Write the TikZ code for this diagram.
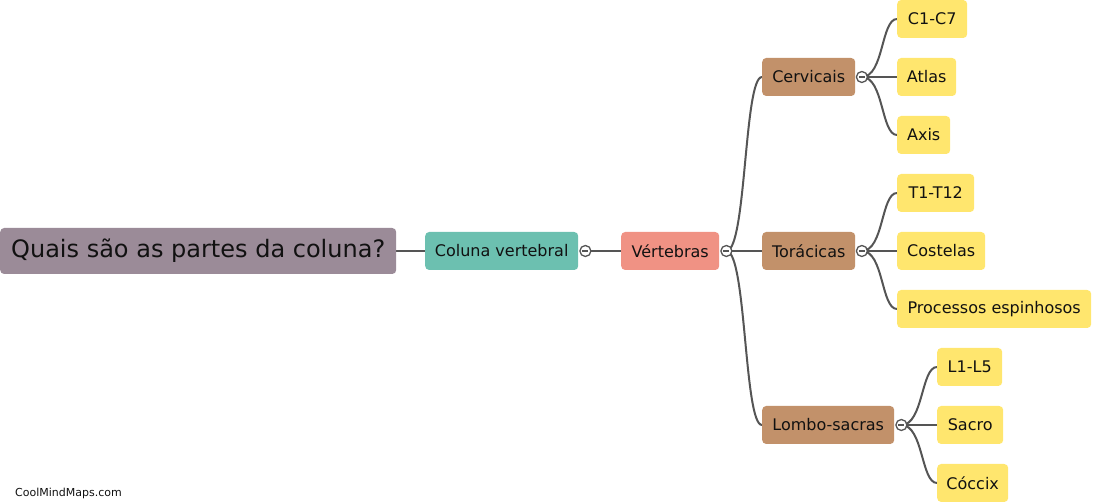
\documentclass[tikz,border=0pt]{standalone}
\usepackage{fontspec}
\setmainfont{DejaVu Sans}
\pgfdeclarelayer{bg}
\pgfsetlayers{bg,main}
\definecolor{rootc}{HTML}{9B8B98}
\definecolor{tealc}{HTML}{6CC0B0}
\definecolor{salmc}{HTML}{F09284}
\definecolor{brownc}{HTML}{C2916A}
\definecolor{yellc}{HTML}{FFE66E}
\definecolor{linec}{HTML}{555555}
\definecolor{txtc}{HTML}{111111}
\begin{document}
\begin{tikzpicture}[x=1pt,y=-1pt,
  box/.style={rounded corners=4pt, inner xsep=0pt, inner ysep=0pt, minimum height=38pt, anchor=west, font=\fontsize{16}{19}\selectfont, text=txtc},
  conn/.style={draw=linec, line width=2pt},
  toggle/.style={circle, draw=linec, fill=white, line width=1.3pt, minimum size=11pt, inner sep=0pt,
    path picture={\draw[linec, line width=1.4pt] ([xshift=-3pt]path picture bounding box.center) -- ([xshift=3pt]path picture bounding box.center);}}]
\useasboundingbox (0,0) rectangle (1104,502);
% nodes
\node[box, fill=rootc, minimum width=396pt, minimum height=46pt, font=\fontsize{24}{28}\selectfont] (root) at (0,251) {Quais são as partes da coluna?};
\node[box, fill=tealc, minimum width=153pt] (col) at (425,251) {Coluna vertebral};
\node[box, fill=salmc, minimum width=98pt] (vert) at (621,251) {Vértebras};
\node[box, fill=brownc, minimum width=93pt] (cerv) at (762,77) {Cervicais};
\node[box, fill=brownc, minimum width=93pt] (tor) at (762,251) {Torácicas};
\node[box, fill=brownc, minimum width=132pt] (lom) at (762,425) {Lombo-sacras};
\node[box, fill=yellc, minimum width=70pt] (c17) at (897,19) {C1-C7};
\node[box, fill=yellc, minimum width=59pt] (atl) at (897,77) {Atlas};
\node[box, fill=yellc, minimum width=53pt] (axi) at (897,135) {Axis};
\node[box, fill=yellc, minimum width=77pt] (t112) at (897,193) {T1-T12};
\node[box, fill=yellc, minimum width=88pt] (cos) at (897,251) {Costelas};
\node[box, fill=yellc, minimum width=194pt] (pro) at (897,309) {Processos espinhosos};
\node[box, fill=yellc, minimum width=65pt] (l15) at (937,367) {L1-L5};
\node[box, fill=yellc, minimum width=66pt] (sac) at (937,425) {Sacro};
\node[box, fill=yellc, minimum width=71pt] (coc) at (937,483) {Cóccix};
% toggles
\node[toggle] (tcol) at ([xshift=7pt]col.east) {};
\node[toggle] (tvert) at ([xshift=7pt]vert.east) {};
\node[toggle] (tcerv) at ([xshift=6.5pt]cerv.east) {};
\node[toggle] (ttor) at ([xshift=6.5pt]tor.east) {};
\node[toggle] (tlom) at ([xshift=7pt]lom.east) {};
% connectors
\begin{pgfonlayer}{bg}
\draw[conn] (root.east) -- (col.west);
\draw[conn] (tcol.center) -- (vert.west);
\foreach \t in {cerv,tor,lom}
  \draw[conn] (tvert.center) .. controls +(20,0) and +(-18,0) .. (\t.west);
\foreach \t in {c17,atl,axi}
  \draw[conn] (tcerv.center) .. controls +(22,0) and +(-16,0) .. (\t.west);
\foreach \t in {t112,cos,pro}
  \draw[conn] (ttor.center) .. controls +(22,0) and +(-16,0) .. (\t.west);
\foreach \t in {l15,sac,coc}
  \draw[conn] (tlom.center) .. controls +(22,0) and +(-16,0) .. (\t.west);
\end{pgfonlayer}
% watermark
\node[anchor=west, inner sep=0pt, font=\fontsize{11}{13}\selectfont, text=txtc] (wm) at (15,493) {CoolMindMaps.com};
\end{tikzpicture}
\end{document}
